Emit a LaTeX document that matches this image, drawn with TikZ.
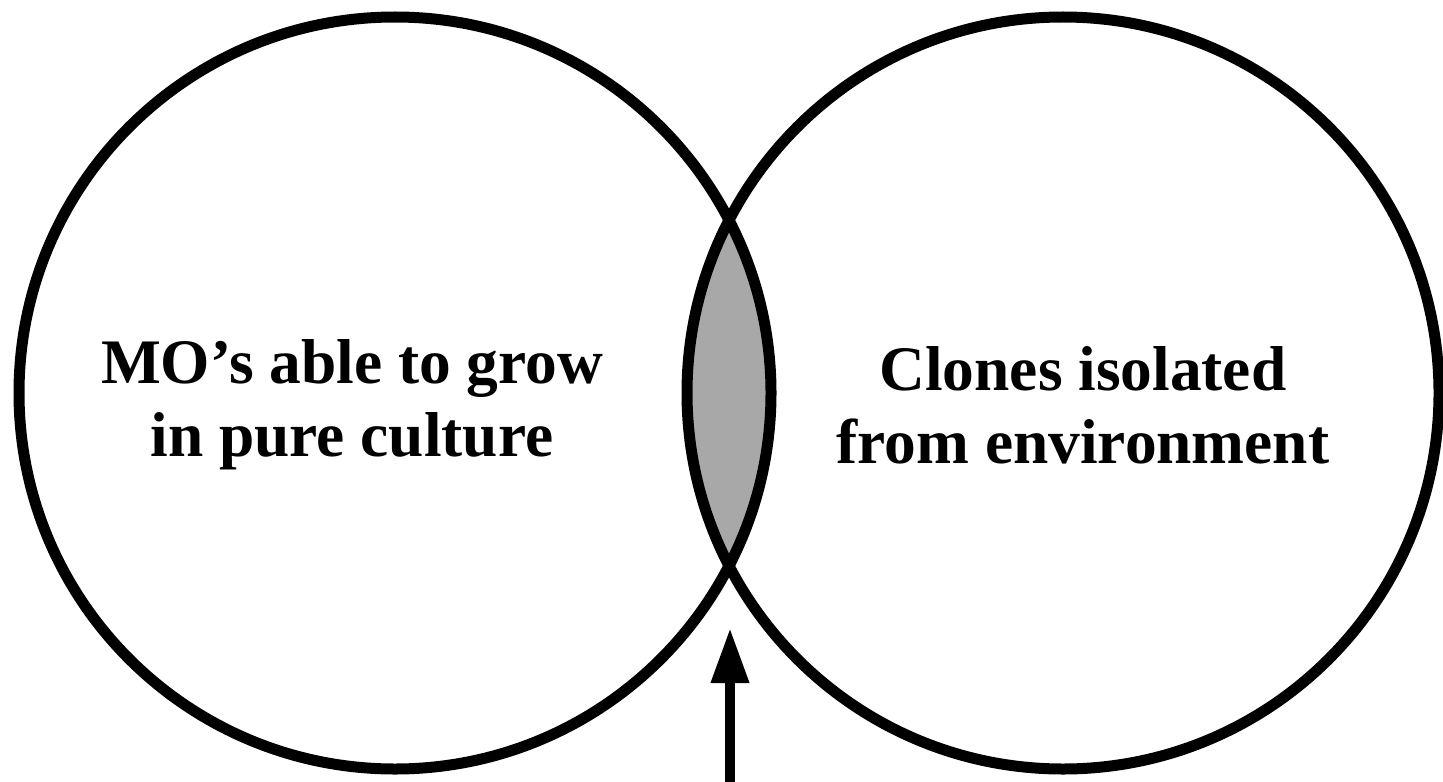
\documentclass[tikz,border=0pt]{standalone}
\usepackage{fontspec}
\setmainfont{Liberation Serif}
\usetikzlibrary{arrows.meta}

\tikzset{every picture/.style={line width=5.5pt}}
\tikzset{
set line/.style={draw=black, line width=5.5pt},
set label/.style={align=center, inner sep=0.75pt, font=\fontsize{31.7}{36.5}\selectfont\bfseries}
}

\begin{document}
\begin{tikzpicture}[x=0.5pt,y=0.5pt,yscale=-1,xscale=1]
\useasboundingbox (0,0) rectangle (1443,781);

%Shape: Lens (overlap) 
\begin{scope}
\clip (395,393) circle (376);
\fill [color={rgb, 255:red, 168; green, 168; blue, 168 }] (1063,393) circle (376);
\end{scope}
%Shape: Circle [left] 
\draw [set line] (395,393) circle (376);
%Shape: Circle [right] 
\draw [set line] (1063,393) circle (376);

% Text Node
\node [set label] (culture) at (352,405) {MO’s able to grow\\in pure culture};
% Text Node
\node [set label] (clones) at (1083,405) {Clones isolated\\from environment};

%Straight Lines [arrow] 
\coordinate (tail) at (730,790);
\coordinate (tip) at (730,628);
\draw [line width=5pt, -{Triangle[length=27.5pt,width=18pt]}] (tail) -- (tip);

\end{tikzpicture}
\end{document}
